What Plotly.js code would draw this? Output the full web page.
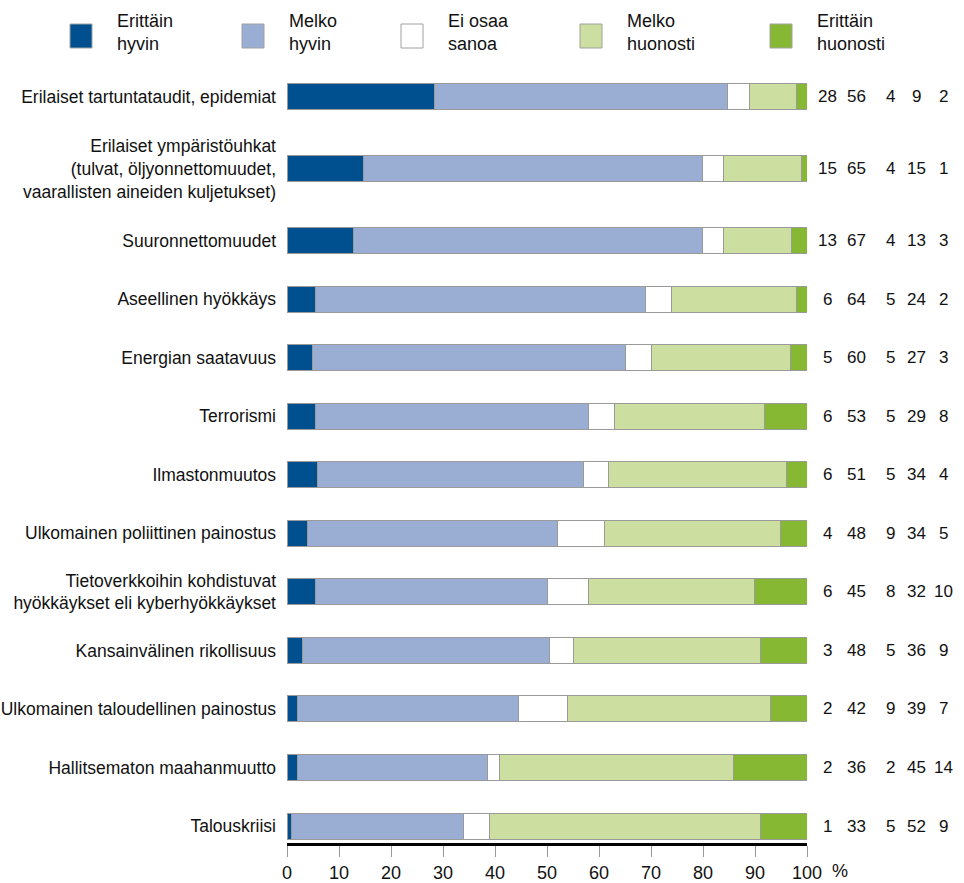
<!DOCTYPE html>
<html>
<head>
<meta charset="utf-8">
<script src="https://cdn.plot.ly/plotly-3.0.1.min.js"></script>
<style>html,body{margin:0;padding:0;background:#fff;}#chart{width:964px;height:883px;}</style>
</head>
<body>
<div id="chart"></div>
<script>
// ---- Data ----
const categories = [
  "Erilaiset tartuntataudit, epidemiat",
  "Erilaiset ympäristöuhkat<br>(tulvat, öljyonnettomuudet,<br>vaarallisten aineiden kuljetukset)",
  "Suuronnettomuudet",
  "Aseellinen hyökkäys",
  "Energian saatavuus",
  "Terrorismi",
  "Ilmastonmuutos",
  "Ulkomainen poliittinen painostus",
  "Tietoverkkoihin kohdistuvat<br>hyökkäykset eli kyberhyökkäykset",
  "Kansainvälinen rikollisuus",
  "Ulkomainen taloudellinen painostus",
  "Hallitsematon maahanmuutto",
  "Talouskriisi"
];
const seriesNames = ["Erittäin<br>hyvin", "Melko<br>hyvin", "Ei osaa<br>sanoa", "Melko<br>huonosti", "Erittäin<br>huonosti"];

// bar lengths (%)
const veryWell    = [28.3, 14.8, 12.8, 5.4, 4.9, 5.4, 5.8, 3.9, 5.4, 2.9, 2.0, 2.0, 0.8];
const fairlyWell  = [56.5, 65.1, 67.1, 63.6, 60.1, 52.6, 51.2, 48.1, 44.6, 47.6, 42.6, 36.5, 33.2];
const dontKnow    = [4.1, 4.1, 4.1, 5.0, 5.0, 4.9, 4.9, 9.0, 7.9, 4.5, 9.3, 2.4, 4.9];
const fairlyBadly = [9.1, 15.0, 13.0, 23.9, 26.9, 29.0, 34.1, 33.9, 32.0, 36.0, 39.0, 45.0, 52.1];
const veryBadly   = [2.0, 1.0, 3.0, 2.1, 3.1, 8.1, 4.0, 5.1, 10.1, 9.0, 7.1, 14.1, 9.0];

// printed (rounded) values on the right
const lblVeryWell    = [28, 15, 13, 6, 5, 6, 6, 4, 6, 3, 2, 2, 1];
const lblFairlyWell  = [56, 65, 67, 64, 60, 53, 51, 48, 45, 48, 42, 36, 33];
const lblDontKnow    = [4, 4, 4, 5, 5, 5, 5, 9, 8, 5, 9, 2, 5];
const lblFairlyBadly = [9, 15, 13, 24, 27, 29, 34, 34, 32, 36, 39, 45, 52];
const lblVeryBadly   = [2, 1, 3, 2, 3, 8, 4, 5, 10, 9, 7, 14, 9];

const xTicks = [0, 10, 20, 30, 40, 50, 60, 70, 80, 90, 100];

// ---- Styling ----
const colors = ["#00508F", "#9AAED4", "#FFFFFF", "#CCDFA1", "#86B833"];
const FONT = "'Liberation Sans Narrow', 'Liberation Sans', Arial, sans-serif";
const FS = 18;
const FS_CAT = 17.5;
const FS_NUM = 17;
const TXT = "#111111";

// row positions: labels with more than two lines get extra room
const extra = categories.map(c => Math.max(0, c.split("<br>").length - 2));
const pos = [];
categories.forEach((c, i) => {
  pos.push(i === 0 ? 0 : pos[i - 1] + 1 + 0.226 * (extra[i - 1] + extra[i]));
});

const allSeries = [veryWell, fairlyWell, dontKnow, fairlyBadly, veryBadly];
const allLabels = [lblVeryWell, lblFairlyWell, lblDontKnow, lblFairlyBadly, lblVeryBadly];

const traces = allSeries.map((vals, k) => ({
  type: "bar",
  orientation: "h",
  x: vals,
  y: pos,
  width: 0.444,
  name: seriesNames[k],
  marker: {color: colors[k], line: {color: "#9A9A9A", width: 1}},
  hoverinfo: "x+name",
  showlegend: false
}));

// plot geometry helpers (pixels -> paper)
const L = 287, R = 807, T = 80, B = 843;
const px = p => (p - L) / (R - L);
const py = p => (B - p) / (B - T);

const annotations = [];
const shapes = [];

// right-hand value columns
const colX = [827, 856, 890, 916, 943];
allLabels.forEach((arr, k) => {
  arr.forEach((v, i) => {
    annotations.push({
      xref: "paper", yref: "y", x: px(colX[k]), y: pos[i],
      text: String(v), showarrow: false, xanchor: "center", yanchor: "middle",
      font: {family: FONT, size: FS_NUM, color: TXT}
    });
  });
});

// "%" after the axis
annotations.push({
  xref: "paper", yref: "paper", x: px(830), y: py(871), text: "%",
  showarrow: false, xanchor: "left", yanchor: "middle",
  font: {family: FONT, size: FS, color: TXT}
});

// legend
const legBoxX = [70, 242, 401, 580, 770];
seriesNames.forEach((n, k) => {
  const bx = legBoxX[k];
  shapes.push({
    type: "rect", xref: "paper", yref: "paper",
    x0: px(bx), x1: px(bx + 22), y0: py(48), y1: py(24),
    fillcolor: colors[k], line: {color: "#A0A0A0", width: 1}
  });
  annotations.push({
    xref: "paper", yref: "paper", x: px(bx + 45), y: py(33),
    text: n, showarrow: false, xanchor: "left", yanchor: "middle", align: "left",
    font: {family: FONT, size: FS, color: TXT}
  });
});

const last = pos[pos.length - 1];
const layout = {
  width: 964, height: 883,
  margin: {l: L, r: 964 - R, t: T, b: 883 - B, pad: 0},
  paper_bgcolor: "#fff", plot_bgcolor: "#fff",
  barmode: "stack",
  font: {family: FONT, size: FS, color: TXT},
  xaxis: {
    range: [0, 100], tickvals: xTicks, ticktext: xTicks.map(String),
    showgrid: false, zeroline: false,
    showline: true, linecolor: "#000", linewidth: 3,
    ticks: "outside", ticklen: 11, tickwidth: 1, tickcolor: "#999",
    tickfont: {family: FONT, size: FS, color: TXT},
    fixedrange: true
  },
  yaxis: {
    range: [last + 0.29, -0.29],
    tickvals: pos, ticktext: categories,
    showgrid: false, zeroline: false, showline: false,
    ticks: "", ticklabelstandoff: 10,
    tickfont: {family: FONT, size: FS_CAT, color: TXT},
    fixedrange: true
  },
  shapes: shapes,
  annotations: annotations,
  showlegend: false
};

Plotly.newPlot("chart", traces, layout, {displayModeBar: false, staticPlot: true});
</script>
</body>
</html>
